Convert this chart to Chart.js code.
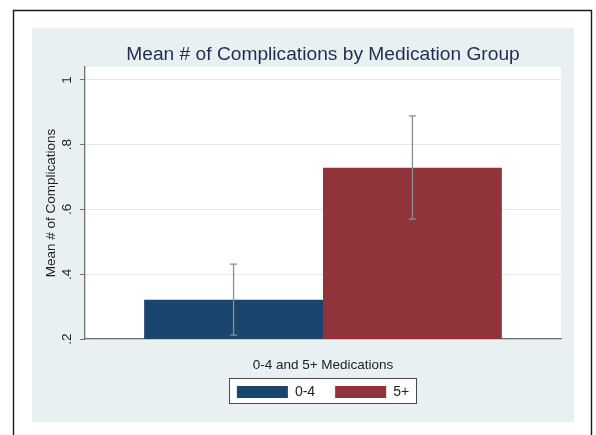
<!DOCTYPE html>
<html>
<head>
<meta charset="utf-8">
<title>Mean # of Complications by Medication Group</title>
<script src="https://cdn.jsdelivr.net/npm/chart.js@4/dist/chart.umd.min.js"></script>
<style>
  html, body { margin: 0; padding: 0; background: #ffffff; }
  canvas { display: block; }
</style>
</head>
<body>
<canvas id="chart" width="596" height="435"></canvas>
<script>
// ---- data ----
const groupLabels = ['0-4 and 5+ Medications'];
const seriesNames = ['0-4', '5+'];
const meanValues = [0.321, 0.729];
const ciLower = [0.212, 0.570];
const ciUpper = [0.431, 0.889];
const yTickValues = [0.2, 0.4, 0.6, 0.8, 1];
const seriesColors = ['#1a456f', '#8f343a'];

const FONT = "'Liberation Sans', Arial, Helvetica, sans-serif";

// Outer frame, grey graph region, white plot region and the boxed legend
const backdropPlugin = {
  id: 'backdrop',
  beforeDraw(chart) {
    const { ctx, chartArea: a } = chart;
    ctx.save();
    ctx.fillStyle = '#ffffff';
    ctx.fillRect(0, 0, chart.width, chart.height);

    // thin black frame (open at the bottom edge)
    ctx.strokeStyle = '#1a1a1a';
    ctx.lineWidth = 1.4;
    ctx.beginPath();
    ctx.moveTo(13.5, chart.height);
    ctx.lineTo(13.5, 10.5);
    ctx.lineTo(591.5, 10.5);
    ctx.lineTo(591.5, chart.height);
    ctx.stroke();

    // graph region
    ctx.fillStyle = '#e9f0f1';
    ctx.fillRect(32, 28, 542, 394);

    // plot region
    ctx.fillStyle = '#ffffff';
    ctx.fillRect(a.left, a.top, a.right - a.left, a.bottom - a.top);

    // legend box
    const boxes = chart.legend && chart.legend.legendHitBoxes;
    if (boxes && boxes.length) {
      const l = Math.min(...boxes.map(b => b.left)) - 8;
      const r = Math.max(...boxes.map(b => b.left + b.width)) + 7;
      const t = Math.min(...boxes.map(b => b.top)) - 7;
      const btm = Math.max(...boxes.map(b => b.top + b.height)) + 4;
      ctx.fillStyle = '#ffffff';
      ctx.fillRect(l, t, r - l, btm - t);
      ctx.strokeStyle = '#4a4a4a';
      ctx.lineWidth = 1;
      ctx.strokeRect(Math.round(l) + 0.5, Math.round(t) + 0.5, Math.round(r - l), Math.round(btm - t));
    }
    ctx.restore();
  }
};

// Confidence-interval whiskers over each bar
const errorBarPlugin = {
  id: 'errorBars',
  afterDatasetsDraw(chart) {
    const { ctx } = chart;
    const y = chart.scales.y;
    ctx.save();
    ctx.strokeStyle = '#8c8c8c';
    ctx.lineWidth = 1.3;
    chart.data.datasets.forEach((ds, i) => {
      const meta = chart.getDatasetMeta(i);
      meta.data.forEach(bar => {
        const x = bar.x;
        const top = y.getPixelForValue(ciUpper[i]);
        const bottom = y.getPixelForValue(ciLower[i]);
        const cap = 3.5;
        ctx.beginPath();
        ctx.moveTo(x, top);
        ctx.lineTo(x, bottom);
        ctx.moveTo(x - cap, top);
        ctx.lineTo(x + cap, top);
        ctx.moveTo(x - cap, bottom);
        ctx.lineTo(x + cap, bottom);
        ctx.stroke();
      });
    });
    ctx.restore();
  }
};

new Chart(document.getElementById('chart'), {
  type: 'bar',
  data: {
    labels: groupLabels,
    datasets: seriesNames.map((name, i) => ({
      label: name,
      data: [meanValues[i]],
      backgroundColor: seriesColors[i],
      borderWidth: 0
    }))
  },
  options: {
    responsive: false,
    animation: false,
    devicePixelRatio: 1,
    layout: { padding: { left: 32, right: 35, top: 43.5, bottom: 26 } },
    datasets: { bar: { categoryPercentage: 0.7515, barPercentage: 1 } },
    plugins: {
      title: {
        display: true,
        text: 'Mean # of Complications by Medication Group',
        fullSize: false,
        color: '#1f2d52',
        font: { family: FONT, size: 19.2, weight: 'normal' },
        padding: { top: 0, bottom: 0.5 }
      },
      legend: {
        display: true,
        position: 'bottom',
        fullSize: false,
        labels: {
          boxWidth: 51,
          boxHeight: 12,
          padding: 20,
          color: '#222222',
          font: { family: FONT, size: 14 }
        }
      },
      tooltip: { enabled: false }
    },
    scales: {
      x: {
        grid: { display: false, drawTicks: false },
        border: { display: true, color: '#707070', width: 1.3 },
        ticks: { display: false },
        title: {
          display: true,
          text: groupLabels[0],
          color: '#222222',
          font: { family: FONT, size: 13.5 },
          padding: { top: 0, bottom: -8 }
        },
        afterFit(scale) { scale.height = 26; }
      },
      y: {
        min: 0.2,
        max: 1.04,
        afterBuildTicks(scale) {
          scale.ticks = yTickValues.map(v => ({ value: v }));
        },
        ticks: {
          minRotation: 90,
          maxRotation: 90,
          crossAlign: 'center',
          padding: 6.6,
          color: '#222222',
          font: { family: FONT, size: 13.5 },
          callback: v => (v === 1 ? '1' : Number(v).toFixed(1).replace(/^0/, ''))
        },
        grid: {
          color: '#e3e8ea',
          lineWidth: 1,
          drawTicks: true,
          tickLength: 5,
          tickColor: '#707070'
        },
        border: { display: true, color: '#707070', width: 1.3 },
        title: {
          display: true,
          text: 'Mean # of Complications',
          color: '#222222',
          font: { family: FONT, size: 13.5 },
          padding: { top: 11.5, bottom: 0 }
        },
        afterFit(scale) { scale.width = 53; }
      }
    }
  },
  plugins: [backdropPlugin, errorBarPlugin]
});
</script>
</body>
</html>
